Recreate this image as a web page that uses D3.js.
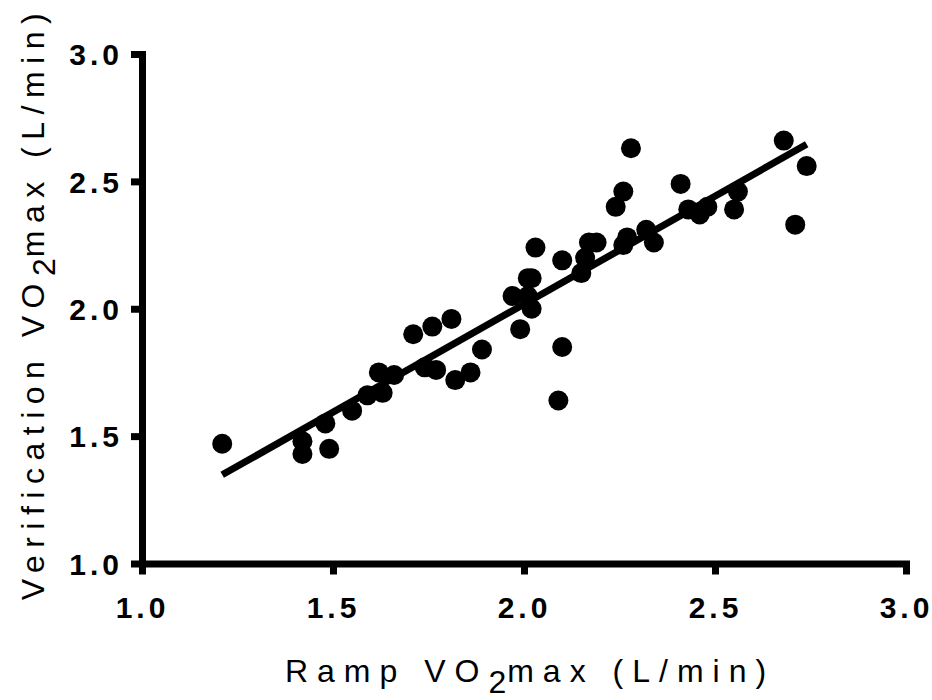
<!DOCTYPE html>
<html>
<head>
<meta charset="utf-8">
<script src="https://cdn.jsdelivr.net/npm/d3@7"></script>
<style>
  body { margin: 0; background: #fff; }
  svg text { font-family: Arial, "Liberation Sans", sans-serif; fill: #000; }
</style>
</head>
<body>
<div id="chart"></div>
<script>
// Ramp VO2max (x) vs Verification VO2max (y), L/min
var rampVO2 = [1.21, 1.42, 1.42, 1.48, 1.49, 1.55, 1.59, 1.62, 1.63, 1.66,
               1.71, 1.74, 1.76, 1.77, 1.81, 1.82, 1.86, 1.89, 1.97, 1.99,
               2.01, 2.01, 2.02, 2.02, 2.03, 2.09, 2.10, 2.10, 2.15, 2.16,
               2.17, 2.19, 2.24, 2.26, 2.26, 2.27, 2.28, 2.32, 2.34, 2.41,
               2.43, 2.46, 2.48, 2.55, 2.56, 2.68, 2.71, 2.74];
var verifVO2 = [1.47, 1.48, 1.43, 1.55, 1.45, 1.60, 1.66, 1.75, 1.67, 1.74,
                1.90, 1.77, 1.93, 1.76, 1.96, 1.72, 1.75, 1.84, 2.05, 1.92,
                2.05, 2.12, 2.12, 2.00, 2.24, 1.64, 1.85, 2.19, 2.14, 2.20,
                2.26, 2.26, 2.40, 2.46, 2.25, 2.28, 2.63, 2.31, 2.26, 2.49,
                2.39, 2.37, 2.40, 2.39, 2.46, 2.66, 2.33, 2.56];
var xTicks = [1.0, 1.5, 2.0, 2.5, 3.0];
var yTicks = [1.0, 1.5, 2.0, 2.5, 3.0];
// linear fit as shown on the chart
var fitSlope = 0.848, fitIntercept = 0.322;

var data = rampVO2.map(function(d, i){ return {x: d, y: verifVO2[i]}; });

var svg = d3.select("#chart").append("svg")
    .attr("width", 932)
    .attr("height", 700);

var x = d3.scaleLinear().domain([1, 3]).range([142, 906]);
var y = d3.scaleLinear().domain([1, 3]).range([563.5, 54]);

// axes
var xAxis = d3.axisBottom(x).tickValues(xTicks).tickSize(11).tickSizeOuter(0)
    .tickPadding(22).tickFormat(d3.format(".1f"));
var yAxis = d3.axisLeft(y).tickValues(yTicks).tickSize(11).tickSizeOuter(0)
    .tickPadding(8).tickFormat(d3.format(".1f"));

var gx = svg.append("g").attr("transform", "translate(0," + y(1) + ")").call(xAxis);
var gy = svg.append("g").attr("transform", "translate(" + x(1) + ",0)").call(yAxis);

[gx, gy].forEach(function(g){
  g.select(".domain").attr("stroke", "#000").attr("stroke-width", 7)
    .attr("stroke-linecap", "square");
  g.selectAll(".tick line").attr("stroke", "#000").attr("stroke-width", 7);
  g.selectAll(".tick text")
    .attr("font-size", 30).attr("font-weight", "bold")
    .style("letter-spacing", "4px");
});
gy.selectAll(".tick text").attr("dy", "0.36em");

// fit line
var xExt = d3.extent(rampVO2);
svg.append("line")
    .attr("x1", x(xExt[0])).attr("y1", y(fitIntercept + fitSlope * xExt[0]))
    .attr("x2", x(xExt[1])).attr("y2", y(fitIntercept + fitSlope * xExt[1]))
    .attr("stroke", "#000").attr("stroke-width", 7);

// points
svg.selectAll(".dot")
    .data(data)
    .enter()
    .append("circle")
    .attr("class", "dot")
    .attr("cx", function(d){ return x(d.x); })
    .attr("cy", function(d){ return y(d.y); })
    .attr("r", 10)
    .attr("fill", "#000");

// axis titles
function title(sel, before, after, spacing){
  sel.attr("font-size", 32).attr("text-anchor", "middle")
    .style("letter-spacing", spacing + "px");
  sel.append("tspan").text(before);
  sel.append("tspan").attr("dy", 11).style("letter-spacing", "1px").text("2");
  sel.append("tspan").attr("dy", -11).text(after);
}

svg.append("text")
    .attr("x", 530).attr("y", 682)
    .call(title, "Ramp VO", "max (L/min)", 9);

svg.append("text")
    .attr("transform", "translate(44,303) rotate(-90)")
    .call(title, "Verification VO", "max (L/min)", 7.5);
</script>
</body>
</html>
